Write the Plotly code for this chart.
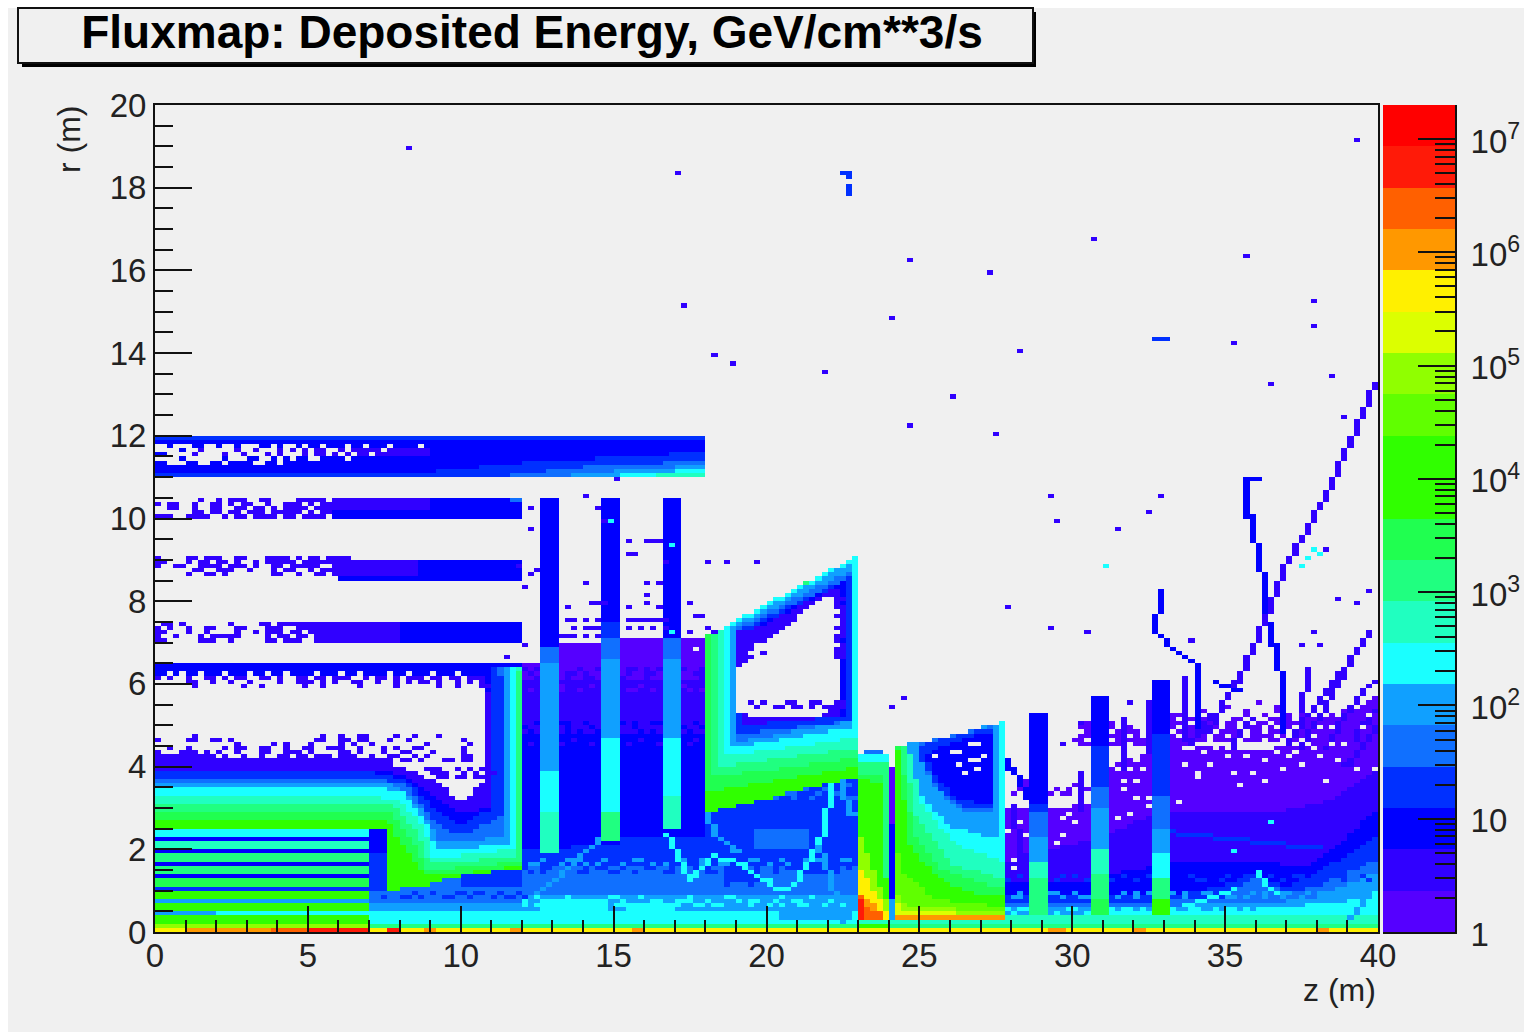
import numpy as np
import plotly.graph_objects as go

# ---------- chart content ----------
TITLE = "Fluxmap: Deposited Energy, GeV/cm**3/s"
X_LABEL = "z (m)"
Y_LABEL = "r (m)"
X_TICKS = [0, 5, 10, 15, 20, 25, 30, 35, 40]
Y_TICKS = [0, 2, 4, 6, 8, 10, 12, 14, 16, 18, 20]
CB_TICKS = [1, 10, 100, 1000, 10000, 100000, 1000000, 10000000]
CB_TEXT = ["1", "10", "10<sup>2</sup>", "10<sup>3</sup>", "10<sup>4</sup>", "10<sup>5</sup>", "10<sup>6</sup>", "10<sup>7</sup>"]
LOG_MAX = 7.3
COLORS = ["#5500ff", "#3000ff", "#0000ff", "#0030ff", "#1070ff", "#10a0ff", "#1affff", "#20ffc0", "#20ff80", "#20ff50",
          "#30ff00", "#30ff00", "#60ff00", "#90ff00", "#dcff00", "#fff000", "#ff9800", "#ff6000", "#ff1a08", "#ff0000"]

# Regions: (colour level, outline in (z, r)); two points = box.
# -1 clears the cell. Painted in order, later over earlier.
RIGHT_REGION = [
    (0, [(27.74, .8), (27.74, 3.0), (29.24, 3.0), (30.6, 3.1), (31.3, 4.0), (32.6, 4.4), (33.3, 4.6), (35.5, 4.4), (37.65, 4.5), (39, 5.2), (40, 5.8), (40, .5)]),
    (1, [(27.74, 1.7), (28.7, 1.9), (30.6, 2.2), (32.6, 2.8), (33.3, 2.95), (37, 2.95), (38.5, 3.2), (40, 4.0), (40, .5), (27.74, .5)]),
    (2, [(27.74, 1.2), (30, 1.2), (32, 1.5), (33.3, 1.7), (36, 1.75), (37.6, 1.55), (39, 2.3), (40, 3), (40, .5), (27.74, .5)]),
    (3, [(27.74, .95), (31, .9), (33.3, .9), (35, 1.15), (36, 1.4), (37, 1.1), (38, 1.45), (40, 2.3), (40, .5), (27.74, .5)]),
    (4, [(27.74, .72), (33, .75), (35, .85), (36, 1.3), (37, .95), (38, 1.1), (40, 1.75), (40, .5), (27.74, .5)]),
    (5, [(27.74, .6), (33, .62), (35, .7), (37, .75), (38, .85), (40, 1.45), (40, .3), (27.74, .3)]),
    (6, [(27.74, .42), (35, .5), (37, .6), (39, .75), (40, 1.0), (40, .3), (27.74, .3)]),
    (7, [(22.9, .2), (40, .4)]),
]
CENTRE_BACK = [
    (4, [(7, .5), (12, 1.7)]),
    (3, [(10, 1.1), (12, 1.7)]),
    (0, [(11.94, 2), (18, 2), (18, 7.1), (15.3, 7.1), (14.7, 7.0), (13.25, 7.0), (13.25, 6.9), (12.68, 6.9), (12.68, 6.55), (11.94, 6.55)]),
    (1, [(11.94, 2), (18, 2), (18, 6.1), (11.94, 6.1)]),
    (2, [(11.94, 2), (18, 2), (18, 4.8), (11.94, 4.8)]),
    (3, [(11.94, .3), (15, .3), (18, .3), (18, 2.3), (15.3, 2.3), (15.3, 2.1), (11.94, 2.0)]),
    (3, [(18, .3), (23, 3.9)]),
    (4, [(11.94, .3), (23, 1.65)]),
    (3, [(18.6, 1.1), (19.8, 1.5)]),
    (3, [(21.0, 1.4), (22.4, 1.9)]),
    (4, [(19.6, 2.0), (21.4, 2.5)]),
    (5, [(7, .3), (23, .7)]),
    (4, [(17.6, .7), (19.2, .9)]),
    (5, [(11.94, .6), (23, .95)]),
    (6, [(7, .2), (23, .5)]),
    (5, [(20.5, .3), (22.9, .55)]),
    (6, [(12.6, .5), (14.8, .8)]),
    (6, [(15.4, .5), (17, .75)]),
]
LOWER_LEFT = [
    (13, [(0, .1), (7, .2)]), (11, [(0, .2), (7, .4)]), (5, [(0, .4), (2, .5)]), (6, [(2, .4), (7, .5)]),
    (10, [(0, .5), (7, .7)]), (5, [(0, .7), (7, .8)]), (10, [(0, .8), (7, 1.0)]), (3, [(0, 1.0), (7, 1.1)]),
    (9, [(0, 1.1), (7, 1.3)]), (2, [(0, 1.3), (7, 1.4)]), (8, [(0, 1.4), (7, 1.6)]), (2, [(0, 1.6), (7, 1.7)]),
    (8, [(0, 1.7), (7, 1.9)]), (2, [(0, 1.9), (7, 2.0)]), (7, [(0, 2.0), (7, 2.2)]), (2, [(0, 2.2), (7, 2.3)]),
    (6, [(0, 2.3), (7, 2.5)]),
    (3, [(7, 1.0), (7.6, 1.9)]), (2, [(7, 1.9), (7.6, 2.5)]),
]
U_FLOOR = [(0, 2.5), (7.6, 2.5), (7.6, 1.0), (8.88, 1.13), (9.65, 1.3), (11.06, 1.46), (11.94, 1.5)]
U_CONTOURS = [
    (3, [(11.94, 6.45), (10.9, 6.45), (11.1, 6.0), (11.1, 3.0), (10.0, 2.6), (9.3, 2.9), (8.2, 3.7), (7, 3.87), (0, 3.87)]),
    (4, [(11.94, 6.45), (11.25, 6.45), (11.35, 5.9), (11.3, 2.75), (10, 2.35), (9.2, 2.6), (8.3, 3.55), (7, 3.72), (0, 3.72)]),
    (5, [(11.94, 6.45), (11.45, 6.4), (11.5, 5.8), (11.45, 2.35), (10.5, 2.2), (9.3, 2.25), (8.7, 3.0), (7.8, 3.6), (0, 3.6)]),
    (6, [(11.94, 6.45), (11.6, 6.35), (11.65, 5.8), (11.6, 2.15), (10, 2.0), (9.2, 2.0), (8.9, 2.6), (8.2, 3.35), (7.2, 3.5), (0, 3.5)]),
    (7, [(11.94, 6.45), (11.7, 6.3), (11.75, 2.0), (10, 1.85), (9.1, 1.8), (8.8, 2.5), (8.0, 3.2), (7, 3.3), (0, 3.3)]),
    (8, [(11.94, 6.4), (11.83, 6.2), (11.83, 1.85), (10, 1.7), (9.0, 1.65), (8.6, 2.4), (7.8, 3.05), (7, 3.1), (0, 3.1)]),
    (9, [(11.94, 6.0), (11.94, 1.7), (9.8, 1.55), (8.9, 1.5), (8.4, 2.2), (7.7, 2.9), (0, 2.9)]),
    (10, [(11.94, 1.6), (9.8, 1.4), (8.8, 1.35), (8.2, 2.0), (7.6, 2.7), (0, 2.7)]),
]
U_HOLE = [(0, 6.3), (10.85, 6.3), (10.9, 4.2), (10.75, 3.6), (10, 3.15), (9.3, 3.6), (8.5, 3.9), (7.5, 4.15), (3, 4.2), (0, 4.35)]
U_RIM = [(0, 3.95), (0, 4.35), (3, 4.2), (7.5, 4.15), (8.5, 3.9), (9.3, 3.6), (10, 3.15), (10.75, 3.6), (10.9, 4.2), (10.9, 5.8), (11.05, 5.8), (11.05, 3.0), (10, 2.9), (9.2, 3.2), (8.3, 3.7), (7.5, 3.95)]
UPPER_BANDS = [
    (2, [(0, 11), (18, 12)]), (3, [(0, 11.9), (18, 12)]), (3, [(0, 11), (8, 11.1)]), (1, [(1, 11.5), (9, 11.7)]),
    (3, [(7, 11), (18, 11), (18, 11.6), (12, 11.35)]), (4, [(11, 11), (18, 11), (18, 11.4), (14, 11.25)]),
    (5, [(13, 11), (18, 11), (18, 11.3), (15, 11.15)]), (6, [(14.4, 11), (18, 11), (18, 11.2), (16, 11.1)]),
    (7, [(16.4, 11), (18, 11.1)]),
    (2, [(5.8, 10), (12, 10.5)]), (1, [(5.8, 10.2), (9, 10.5)]), (4, [(11.6, 10.4), (12, 10.5)]),
    (2, [(6, 8.5), (12, 9.05)]), (1, [(6, 8.6), (8.6, 9.05)]),
    (2, [(7, 7), (12, 7.5)]), (1, [(5.4, 7), (8, 7.5)]),
]
WEDGE = [
    (10, [(18, 2.87), (22.95, 3.75), (22.95, 9.1), (18, 7.14)]),
    (9, [(18.1, 3.4), (22.95, 4.0), (22.95, 9.1), (18.1, 7.18)]),
    (8, [(18.25, 3.75), (22.95, 4.2), (22.95, 9.1), (18.25, 7.25)]),
    (7, [(18.45, 4.0), (22.95, 4.45), (22.95, 9.1), (18.45, 7.3)]),
    (6, [(18.6, 4.25), (22.95, 4.7), (22.95, 9.1), (18.6, 7.38)]),
    (5, [(18.75, 4.45), (22.8, 4.95), (22.8, 8.95), (18.75, 7.35)]),
    (4, [(18.95, 4.6), (22.8, 5.1), (22.8, 8.75), (18.95, 7.35)]),
    (3, [(19.1, 4.8), (22.8, 5.1), (22.8, 8.6), (19.1, 7.3)]),
    (2, [(19.3, 5.0), (22.6, 5.25), (22.6, 8.5), (19.25, 7.25)]),
    (1, [(19.15, 5.0), (22.5, 5.2), (22.5, 8.4), (19.15, 7.15)]),
    (-1, [(19.1, 6.9), (20, 7.0), (21, 7.6), (21.9, 8.15), (22.35, 8.05), (22.45, 7), (22.3, 5.55), (21.8, 5.25), (19.8, 5.15), (19.1, 5.3), (19.0, 6)]),
]
BLOCK_ONE = [
    (6, [(22.95, 4.1), (23.93, 4.3)]), (4, [(23.3, 4.3), (23.8, 4.42)]),
    (8, [(22.95, .27), (23.93, 4.15)]), (9, [(22.95, .27), (23.93, .27), (23.8, 3.85), (22.95, 3.85)]),
    (10, [(22.95, .27), (23.85, .27), (23.8, 3.6), (22.95, 3.7)]),
    (11, [(22.95, .27), (23.93, .27), (23.93, 1.2), (23.3, 3.2), (22.95, 3.9)]),
    (13, [(22.95, .27), (23.93, .27), (23.93, .7), (23.1, 2.3), (22.95, 3.7)]),
    (15, [(22.95, .27), (23.93, .27), (23.93, .5), (23.1, 1.5), (22.95, 3.4)]),
    (16, [(22.95, .27), (23.93, .27), (23.5, .7), (23.1, .9), (22.95, 1.8)]),
    (17, [(22.95, .27), (23.93, .27), (23.8, .45), (23.2, .6), (22.95, 1.4)]),
    (18, [(22.95, .27), (23.2, .27), (23.2, .6), (23, 1)]),
    (2, [(23.93, .8), (24.17, 3.9)]), (0, [(23.93, 2.6), (24.17, 4.0)]), (5, [(23.93, .27), (24.17, .8)]),
]
BLOCK_TWO = [
    (5, [(24.17, .27), (27.74, .27), (27.74, 5.09), (27.2, 5.0), (26.76, 4.9), (26.2, 4.76), (25.2, 4.6), (24.17, 4.5)]),
    (4, [(24.9, 4.55), (27.5, 5.0), (27.5, 2.95), (26.5, 2.87), (25.5, 3.5)]),
    (3, [(25.1, 4.55), (27.4, 4.95), (27.4, 3.0), (26.7, 2.95), (25.7, 3.4), (25.1, 4.1)]),
    (2, [(25.2, 4.3), (26.2, 4.6), (27.3, 4.85), (27.4, 3.1), (26.2, 3.2), (25.4, 3.9)]),
    (6, [(24.17, .27), (27.74, .27), (27.74, 2.22), (26.0, 2.55), (25.13, 3.2), (24.75, 3.84), (24.6, 4.5), (24.17, 4.5)]),
    (7, [(24.17, .27), (27.74, .27), (27.74, 1.74), (26.2, 2.1), (25.13, 3.0), (24.65, 4.5), (24.17, 4.5)]),
    (8, [(24.17, .27), (27.74, .27), (27.74, 1.26), (26, 1.66), (24.91, 2.75), (24.5, 4.5), (24.17, 4.5)]),
    (9, [(24.17, .27), (27.74, .27), (27.74, 1.05), (25.7, 1.5), (24.8, 2.4), (24.35, 4.5), (24.17, 4.5)]),
    (10, [(24.17, .27), (27.74, .27), (27.74, .86), (26.76, .94), (25.67, 1.26), (24.69, 2.06), (24.3, 4.4), (24.17, 4.4)]),
    (12, [(24.17, .27), (27.74, .27), (27.74, .6), (25.5, .8), (24.4, 1.5), (24.17, 2.4)]),
    (13, [(24.17, .27), (27.74, .27), (27.74, .45), (24.6, .65), (24.17, 1.0)]),
    (14, [(24.17, .27), (27.74, .27), (27.74, .4), (24.5, .5), (24.17, .8)]),
    (16, [(24.17, .27), (27.74, .37)]),
    (6, [(27.6, 2.2), (27.74, 5.09)]),
]
PILLARS = [
    (2, [(12.68, 6.9), (13.25, 10.52)]), (4, [(12.68, 6.5), (13.25, 6.9)]), (5, [(12.68, 3.9), (13.25, 6.5)]),
    (6, [(12.68, 2.87), (13.25, 3.9)]), (7, [(12.68, 1.92), (13.25, 2.87)]),
    (2, [(14.69, 7.5), (15.26, 10.52)]), (3, [(14.69, 7.1), (15.26, 7.5)]), (4, [(14.69, 6.6), (15.26, 7.1)]),
    (5, [(14.69, 4.7), (15.26, 6.6)]), (6, [(14.69, 2.87), (15.26, 4.7)]), (8, [(14.69, 2.18), (15.26, 2.87)]),
    (2, [(16.7, 7.1), (17.26, 10.52)]), (4, [(16.7, 6.65), (17.26, 7.1)]), (5, [(16.7, 4.7), (17.26, 6.65)]),
    (6, [(16.7, 3.3), (17.26, 4.7)]), (7, [(16.7, 2.5), (17.26, 3.3)]),
    (2, [(28.69, 3.11), (29.24, 5.31)]), (3, [(28.69, 2.87), (29.24, 3.11)]), (4, [(28.69, 2.31), (29.24, 2.87)]),
    (5, [(28.69, 1.66), (29.24, 2.31)]), (7, [(28.69, 1.26), (29.24, 1.66)]), (8, [(28.69, .37), (29.24, 1.26)]),
    (2, [(30.63, 4.48), (31.26, 5.7)]), (3, [(30.63, 3.5), (31.26, 4.48)]), (4, [(30.63, 3.0), (31.26, 3.5)]),
    (5, [(30.63, 1.97), (31.26, 3.0)]), (7, [(30.63, 1.4), (31.26, 1.97)]), (8, [(30.63, .85), (31.26, 1.4)]), (9, [(30.63, .37), (31.26, .85)]),
    (2, [(32.65, 4.8), (33.27, 6.09)]), (3, [(32.65, 3.3), (33.27, 4.8)]), (4, [(32.65, 2.55), (33.27, 3.3)]),
    (5, [(32.65, 1.9), (33.27, 2.55)]), (6, [(32.65, 1.26), (33.27, 1.9)]), (8, [(32.65, .85), (33.27, 1.26)]), (10, [(32.65, .37), (33.27, .85)]),
]
BOTTOM_ROWS = [
    (8, [(7, .1), (40, .2)]), (15, [(0, 0), (40, .1)]),
    (16, [(1.1, 0), (3.8, .1)]), (17, [(3.8, 0), (5, .1)]), (18, [(5, 0), (7, .1)]),
    (16, [(8.8, 0), (9.2, .1)]), (18, [(7.6, 0), (8.0, .1)]), (16, [(11.6, 0), (12, .1)]), (16, [(15.6, 0), (16, .1)]),
    (16, [(29.2, 0), (29.8, .1)]), (16, [(32, 0), (32.4, .1)]), (16, [(38, 0), (38.4, .1)]),
    (10, [(22.95, .1), (24, .2)]),
]

# Thin tracks: (level, way-points in (z, r))
TRACKS = [
    (6, [(16.73, 2.35), (17.5, 1.26), (18.26, 1.82), (19.24, 1.66), (20.33, 1.02), (20.87, 1.1), (21.75, 2.14), (22.18, 3.51)]),
    (5, [(18.04, 2.87), (18.37, 2.38), (19.13, 1.9)]),
    (5, [(21.75, 2.06), (22.5, .29)]),
    (5, [(14.55, 2.23), (13.24, 1.34), (12.37, .85)]),
    (5, [(22.4, 3.6), (22.8, 2.8)]),
    (2, [(35.64, 10.93), (36.1, 10.93)]),
    (2, [(35.64, 10.93), (35.8, 10.0), (36.3, 8.3), (36.3, 7.87), (36.9, 5.93), (36.9, 4.8)]),
    (1, [(39.9, 13.2), (38.5, 10.8), (37.1, 9.0), (36.3, 7.55), (35.37, 6.0), (34.39, 4.8)]),
    (2, [(32.9, 8.27), (32.7, 7.22), (34.17, 6.34), (34.17, 4.8)]),
    (2, [(27.76, 4.28), (28.8, 2.95)]),
    (1, [(39.73, 7.22), (39.19, 6.66), (38.2, 5.37), (37.45, 4.48)]),
    (1, [(39.84, 6.0), (39.08, 5.45), (38.3, 4.4)]),
    (1, [(38.86, 6.34), (37.67, 5.2), (37.0, 4.5)]),
    (1, [(39.84, 5.37), (39.2, 4.64)]),
    (1, [(39.9, 4.9), (38.9, 4.0)]),
    (2, [(34.66, 6.0), (35.5, 5.85)]),
    (1, [(31.66, 5.1), (31.66, 3.9)]),
    (1, [(32.4, 5.5), (32.4, 4.3)]),
    (1, [(33.7, 6.1), (33.8, 4.55)]),
    (1, [(34.5, 5.2), (33.9, 4.6)]),
    (1, [(35.8, 5.1), (35.2, 4.4)]),
    (1, [(37.7, 6.3), (37.5, 5.3)]),
    (1, [(28.1, 3.0), (28.3, 1.8)]),
    (1, [(30.2, 3.8), (30.2, 2.9)]),
    (5, [(39.0, .3), (40, 1.25)]),
    (6, [(36.0, 1.4), (36.6, .9)]),
    (6, [(33.6, .6), (35.2, 1.0)]),
    (3, [(33.3, 2.4), (38.0, 2.0)]),
]

# Single scattered cells (z, r) by level
SPECKS_SPARSE = [(8.21, 18.91), (17.1, 18.38), (39.3, 19.18), (30.67, 16.78), (24.79, 16.28), (27.27, 15.96), (35.68, 16.37), (17.3, 15.19),
                 (24.03, 14.8), (37.93, 15.21), (37.87, 14.68), (28.35, 14.03), (35.38, 14.29), (18.31, 13.98), (18.9, 13.76), (21.91, 13.57),
                 (38.59, 13.45), (36.4, 13.28), (26.1, 12.96), (24.69, 12.29), (27.57, 12.07), (29.37, 10.5), (29.4, 9.92), (32.86, 10.5),
                 (32.44, 10.13), (27.96, 7.86), (29.27, 7.3), (30.58, 7.25), (31.56, 9.72), (38.9, 12.4), (38.3, 9.2), (39.6, 8.2), (38.7, 8.0),
                 (39.2, 7.9), (33.9, 7.0), (37.8, 7.2), (37.5, 6.9), (38.1, 6.9), (29.7, 4.5), (30.2, 5.0), (31.9, 5.5), (24.5, 5.65), (24.1, 5.45)]
SPECKS_CENTRE = [(12.35, 10.25), (12.35, 9.76), (14.55, 10.25), (14.6, 9.9), (14.1, 10.57), (15.05, 10.9), (15.4, 9.46), (16.0, 9.46), (16.2, 9.46), (16.4, 9.46),
                 (15.5, 9.1), (15.7, 9.1), (16.6, 8.98), (18.1, 8.98), (18.7, 8.98), (19.6, 8.98), (12.5, 8.78), (12.3, 8.65), (12.0, 8.35), (14.0, 8.44), (16.1, 8.44),
                 (16.5, 8.44), (14.3, 7.97), (14.5, 7.97), (14.7, 7.97), (13.4, 7.87), (15.5, 7.87), (16.1, 7.9), (16.1, 8.1), (16.5, 7.87), (17.4, 7.97),
                 (17.7, 7.65), (17.9, 7.65), (18.0, 7.3), (17.5, 7.2), (13.4, 7.55), (13.7, 7.55), (14.1, 7.55), (14.5, 7.55), (13.6, 7.3), (14.1, 7.3), (14.3, 7.3), (14.5, 7.3),
                 (13.3, 7.1), (13.5, 7.1), (13.7, 7.1), (14.1, 7.1), (14.5, 7.1), (15.4, 7.55), (15.6, 7.55), (15.8, 7.55), (16.0, 7.55), (16.2, 7.55), (16.4, 7.55), (16.6, 7.55),
                 (15.4, 7.3), (15.8, 7.3), (16.2, 7.3), (16.6, 7.3), (18.2, 7.25), (11.96, 8.8), (12.1, 6.9), (11.4, 6.65)]
HOLES = [(26.6, 4.57), (26.98, 4.57), (26.1, 4.36), (26.3, 4.36), (26.6, 4.16), (26.8, 4.16), (26.27, 4.04), (26.8, 3.93), (25.5, 4.25), (27.0, 4.25), (26.44, 3.8),
         (31.66, 3.6), (31.66, 3.4), (32.0, 3.68), (32.05, 3.27), (32.43, 3.23), (32.43, 3.0), (31.94, 2.88), (31.4, 2.75), (34.0, 3.7), (33.5, 3.15),
         (29.6, 2.3), (29.54, 2.13), (28.0, 1.74), (28.07, 1.54), (30.0, 2.6), (29.6, 2.7), (27.9, 2.4), (28.2, 2.6), (28.4, 2.3), (29.9, 2.85),
         (33.7, 4.05), (34.17, 3.84), (34.5, 4.05), (35.2, 3.84), (35.4, 3.55), (35.8, 3.8), (36.3, 3.65), (36.8, 3.9), (37.55, 4.08), (38.3, 3.65),
         (39.3, 3.93), (39.8, 3.92), (38.7, 4.1), (38.05, 4.2), (37.3, 4.3), (36.3, 4.15), (35.0, 4.25), (33.9, 4.4), (32.4, 3.2), (32.4, 3.0), (33.5, 3.15),
         (17.7, 6.85), (31.5, 3.9), (32.0, 4.1), (32.2, 3.9), (31.9, 3.9), (33.6, 4.4), (34.2, 4.3), (34.7, 4.4), (35.6, 4.25), (36.1, 4.4), (36.7, 4.35), (37.0, 4.2), (37.9, 4.4), (38.4, 4.5), (38.9, 4.5), (39.4, 4.9), (39.7, 5.2)]
SPECKS_BRIGHT = [(31.16, 8.88), (37.6, 9.0), (37.8, 9.2), (37.4, 8.8), (38.0, 9.1), (36.5, 2.6), (35.3, 1.9), (14.9, 9.95), (16.9, 9.3), (16.9, 7.2)]
BLUE_HOOK = [(22.4, 18.35), (22.6, 18.35), (22.6, 18.2), (22.6, 18.05), (22.6, 17.9), (22.6, 17.8), (32.6, 14.3), (32.8, 14.3), (33.0, 14.3)]

# Speckled rows: (level, first column in 0.2 m cells, r of first row, rows going downward); '#' marks a cell
MASKS_BACK = [
    (6, 60, .88, ["  #    #      ##   #       #     ##       #    #       ",
                  "#   ##    #  #  #    ##  ###  #    # ##  #  ##    ##  ",
                  "# ##  #  # #   ## # #  # #  ## ##    #  # #  ##  #  # "]),
    (4, 60, 1.15, [" ##  #  ## #    #  ##   #  ##  #  ### #   ##  #  ##  #",
                   "#  #   #   # ##   #  #  ##    #   #  # ##    #  #  #  ",
                   "  #  ##  #    #  #   ###  # ##  #    #   # #   #  ##  "]),
    (3, 60, 1.55, ["#  ##  #  # ##  #   ##  #   # #  ###  #  # ##  #  #  #",
                   " # #  #  ##   ##  #    ## #   ##  #  #   #   ##  ##   "]),
    (5, 60, 1.75, ["   #   ##    #    ##     ##  #   #   ##   #   # #   ##",
                   " ##   #   # #   #    # #     #  ##      #  #     #    "]),
    (4, 90, 3.5, ["  # ##   #  ##   ## #  # ##  #  #",
                  "#  #  ##   #  # #  #  #    # ## ",
                  "  #   #  #   ##   #  ##  #  #  #",
                  "##  #   #  #  #  #  #  ##  # #  "]),
    (1, 60, 6.35, ["# # ##   #  # #  ## # #   #  # ",
                   " #   # ## #   #  #  ## # #  ## ",
                   "  # #  #  ##  # #   #   ##   # "]),
    (0, 60, 5.95, ["   #  #    #   #   #   #  #    ",
                   " #    #  #   #   ##  #     # # "]),
    (2, 60, 5.05, ["  #   ##  #  #  # #  ## #   # #",
                   "#  ##  #   #   #  #    #  #  # ",
                   " #  #  # #  ## #   # #  ## #   "]),
    (1, 60, 4.65, ["   #    #     #    #    #   #  ",
                   " #    #    #     #    #    #   "]),
    (5, 35, .68, ["  #  ##  #   #  # ##  #   ",
                  " #  #   ## #   #   #  ##  "]),
    (3, 35, .95, ["       #  #   ## ##  #  # ",
                  "  #  ## #   ##  #   # ## #"]),
    (5, 139, .95, ["  #  # ##  #  ##   # # ##  # #  ##  #   # #  ##  # ## # ## #  ",
                   " ##  #   #  ##  # #  #  ##   #   #  ## #  #  #  #  ## #  ## "]),
    (6, 139, .55, ["# ##  #   ##  #  # ## #  # #  ##  # ## #  #  # ## #  # #  # #",
                   " #  ##  #    ## #  #    #  ##   #   #  ## #  #   #  #  #  ## "]),
    (3, 139, 1.35, ["  #   #  # #    #  #   ## #   #     #  ##  #   ##  #   #  #  ",
                    "#   #   #    #   #   #    #    ##  #      #  #  ##  #  #   # "]),
    (0, 166, 5.5, ["              #          #       # ",
                   "         #       #       #     #  #",
                   "    ##      #    #   #      # #  ##",
                   "##    #     #  #   # #  # #  ## ###",
                   "#  # #    ## #  ## #  ## ### # # ##",
                   "##  # ## ## # ## # ## # ### ## ####",
                   "# ## ### ## ### # ## ### # ### ### ",
                   " ### ## #### ## ### ## #### ## ####",
                   "# #### ## ## #### # ### # ### # ###",
                   "## ### #### ### ## ## ##### ### ###"]),
    (0, 139, 3.6, ["   #          #     #  #    #    #  ",
                   "  ## #     ## ##   ##  ##  ### # #  ",
                   "  # ##  # #  ###  ### ### ##### ###",
                   " # ## ## ## # ### #### ### ### ####"]),
    (0, 150, 5.0, ["  #   #       ",
                   " ##  ##  #   #",
                   "  # ## # ## ##",
                   " ## # ### # ##",
                   "## ##  # #####",
                   " #### ### ####"]),
]
MASKS = [
    (-1, 0, 11.75, ["## ###  ## ## ###  # ## #  #   #  #   #    #",
                    "#### ## ##### ## ### # # #  ## #     #     ",
                    "  #### #### ## ### # ### #  # # #  #       ",
                    "#### ###### ###  ## # #  ##    #           ",
                    "  ###  ##  #    ##  #                      "]),
    (1, 0, 10.45, ["       #  # ###  ##    ##### ",
                   "# ##  #  ## # ##  #  ### # ##",
                   "  ##  #  ##  ## ## # #### ###",
                   "      ## ## ## ### ##### # ##",
                   "###  ####  # ## #### ## #### "]),
    (1, 0, 9.0, ["#    ## ###  ##   #### # ## ####",
                 "##   # ## ## #  # ##### ####### ",
                 "#  ##  #### ### #  ## #####  ## ",
                 "      ##  ###  #   # ##  # ### #",
                 "     #  ## #       ##  #  ## ###"]),
    (1, 0, 7.45, [" ## #       #    ## ########  ",
                  "# #  #  ##   ##   ###  #### ###",
                  "##   #  #    #  # ### ## #### #",
                  "#  #   # #####    # ## ## #####",
                  "##     ###  #     ## ###  ###  "]),
    (2, 0, 6.25, ["## # ## ### ### ## ## #### ### ## #### ## ### ### ####"]),
    (1, 0, 6.15, ["# #  #  ## # ##  ## #  ## ## ###  # ## # ### ## ## ###",
                  "     ##  #  #  #    #  ### # #  ##  #  # # ## #  # # #",
                  "      #       #  #      #  #     #     #      #  #   ##"]),
    (1, 0, 4.7, ["      #                    #  #  ##    #  #   #      ",
                 "#    ##  ## #             ##  ## ##   #  #        #  ",
                 "             #     # #   #    # #  #        #      # ",
                 "  #  #     # ##  ##  #  ##  ###  #   # #  ##      # ",
                 "#   ### # #  #   ##  ### #    ## #   #  ##   #    # ",
                 "  ##### ## #  #  #  ## ## ### ###  #  ##  # #     ##",
                 "######### ##   ##### #######  ######### ## #   ## ##"]),
    (1, 44, 3.9, ["###  # # #  ",
                  " ###  # # ## ",
                  "  ## ## ##  "]),
    (1, 95, 7.2, ["##   ",
                  "###  ",
                  "# #  ",
                  "##   ",
                  "###  ",
                  "##  #",
                  "###  ",
                  "##   ",
                  "#    "]),
    (1, 108, 8.0, ["   ##",
                   "   # ",
                   "   ##",
                   "    #",
                   "   ##",
                   "    #",
                   "    #",
                   "   ##",
                   "    #",
                   "   ##",
                   "   # ",
                   "    #",
                   "   ##",
                   "   ##",
                   "   ##"]),
    (1, 97, 5.5, ["# #   ##  ##  ## ", " #  ## ## # #### "]),
]

# ---------- grid ----------
NZ, NR = 200, 200
z_edges = [i * 0.2 for i in range(NZ + 1)]
r_edges = [i * 0.1 for i in range(NR + 1)]
zc = (np.array(z_edges[:-1]) + np.array(z_edges[1:])) / 2
rc = (np.array(r_edges[:-1]) + np.array(r_edges[1:])) / 2
ZZ, RR = np.meshgrid(zc, rc)
grid = np.full((NR, NZ), -1, dtype=int)


def paint(level, pts):
    if len(pts) == 2:
        (a, b), (c, d) = pts
        pts = [(a, b), (c, b), (c, d), (a, d)]
    inside = np.zeros(ZZ.shape, dtype=bool)
    n = len(pts)
    for i in range(n):
        x1, y1 = pts[i]
        x2, y2 = pts[(i + 1) % n]
        if y1 == y2:
            continue
        cond = (y1 <= RR) != (y2 <= RR)
        inside ^= cond & (ZZ < x1 + (RR - y1) * (x2 - x1) / (y2 - y1))
    grid[inside] = level


def cell(level, z, r):
    iz, ir = int(z / 0.2 + 1e-6), int(r / 0.1 + 1e-6)
    if 0 <= iz < NZ and 0 <= ir < NR:
        grid[ir, iz] = level


def track(level, pts):
    for (a, b), (c, d) in zip(pts[:-1], pts[1:]):
        n = int(max(abs(c - a) / 0.2, abs(d - b) / 0.1)) + 1
        for k in range(n + 1):
            cell(level, a + (c - a) * k / n, b + (d - b) * k / n)


def stamp(masks):
    for lev, col0, rtop, rows in masks:
        for j, row in enumerate(rows):
            for i, ch in enumerate(row):
                if ch == "#":
                    cell(lev, (col0 + i + 0.5) * 0.2, rtop - j * 0.1)


for lev, pts in RIGHT_REGION + CENTRE_BACK:
    paint(lev, pts)
stamp(MASKS_BACK)
for lev, pts in TRACKS:
    track(lev, pts)
for lev, pts in LOWER_LEFT:
    paint(lev, pts)
paint(2, U_FLOOR + [(11.94, 6.5), (0, 6.5)])
paint(-1, U_HOLE)
paint(1, U_RIM)
for lev, curve in U_CONTOURS:
    paint(lev, U_FLOOR + curve)
for lev, pts in UPPER_BANDS + WEDGE + BLOCK_ONE + BLOCK_TWO + PILLARS + BOTTOM_ROWS:
    paint(lev, pts)
stamp(MASKS)
for z, r in SPECKS_SPARSE + SPECKS_CENTRE:
    cell(1, z, r)
for z, r in HOLES:
    cell(-1, z, r)
for z, r in SPECKS_BRIGHT:
    cell(6, z, r)
for z, r in BLUE_HOOK:
    cell(3, z, r)

values = np.where(grid < 0, np.nan, (grid + 0.5) * LOG_MAX / 20)

# ---------- figure ----------
W, H = 1524, 1032
PX = lambda x: x / W
PY = lambda y: 1 - y / H
BG = "#f0f0f0"
scale = []
for i, c in enumerate(COLORS):
    scale += [[i / 20, c], [(i + 1) / 20, c]]

fig = go.Figure()
fig.add_trace(go.Heatmap(x=z_edges, y=r_edges, z=values, zmin=0, zmax=LOG_MAX, colorscale=scale, showscale=False,
                         hoverongaps=False, xaxis="x", yaxis="y"))
cb_edges = [10 ** (i * LOG_MAX / 20) for i in range(21)]
cb_values = [[(i + 0.5) * LOG_MAX / 20] for i in range(20)]
fig.add_trace(go.Heatmap(x=[0, 1], y=cb_edges, z=cb_values, zmin=0, zmax=LOG_MAX, colorscale=scale, showscale=False,
                         hoverinfo="skip", xaxis="x2", yaxis="y2"))

FONT = "Liberation Sans, Arial, sans-serif"
TICK = dict(family=FONT, size=33, color="#222222")
cb_minor = [m * 10 ** d for d in range(8) for m in range(2, 10) if m * 10 ** d <= 10 ** LOG_MAX] + [10 ** LOG_MAX]

fig.update_layout(
    width=W, height=H, autosize=False, margin=dict(l=0, r=0, t=0, b=0), template=None,
    paper_bgcolor="white", plot_bgcolor=BG, showlegend=False,
    title=dict(text=TITLE, font=dict(family=FONT, size=46, color="black", weight="bold"),
               x=PX(532), y=PY(32), xanchor="center", yanchor="middle", xref="paper", yref="paper"),
    xaxis=dict(domain=[PX(155), PX(1378)], range=[0, 40], tickvals=X_TICKS, ticks="inside", ticklen=26, tickwidth=2,
               tickcolor="#111111", tickfont=TICK, showline=True, linecolor="#111111", linewidth=2, mirror=True,
               showgrid=False, zeroline=False, anchor="y", automargin=False, ticklabelstandoff=-7,
               minor=dict(tickvals=list(range(41)), ticks="inside", ticklen=12, tickwidth=2, tickcolor="#111111", showgrid=False)),
    yaxis=dict(domain=[PY(932), PY(105)], range=[0, 20], tickvals=Y_TICKS, ticks="inside", ticklen=37, tickwidth=2,
               tickcolor="#111111", tickfont=TICK, showline=True, linecolor="#111111", linewidth=2, mirror=True,
               showgrid=False, zeroline=False, anchor="x", automargin=False,
               minor=dict(tickvals=[i * 0.5 for i in range(41)], ticks="inside", ticklen=18, tickwidth=2, tickcolor="#111111", showgrid=False)),
    xaxis2=dict(domain=[PX(1383), PX(1455)], range=[0, 1], showticklabels=False, ticks="", showline=True, linecolor="#111111",
                linewidth=2, showgrid=False, zeroline=False, anchor="y2", automargin=False),
    yaxis2=dict(domain=[PY(932), PY(105)], type="log", range=[0, LOG_MAX], side="right", anchor="x2", tickvals=CB_TICKS, ticktext=CB_TEXT,
                ticks="inside", ticklen=37, tickwidth=2, tickcolor="#111111", tickfont=TICK, showline=True, linecolor="#111111",
                linewidth=2, showgrid=False, zeroline=False, automargin=False, ticklabelstandoff=7, ticklabelshift=2,
                minor=dict(tickvals=cb_minor, ticks="inside", ticklen=20, tickwidth=2, tickcolor="#111111", showgrid=False)),
    shapes=[
        dict(type="rect", xref="paper", yref="paper", x0=PX(8), x1=PX(1524), y0=PY(1032), y1=PY(8), fillcolor=BG, line=dict(width=0), layer="below"),
        dict(type="rect", xref="paper", yref="paper", x0=PX(22), x1=PX(1036), y0=PY(67), y1=PY(12), fillcolor="#000000", line=dict(width=0), layer="below"),
        dict(type="rect", xref="paper", yref="paper", x0=PX(18), x1=PX(1033), y0=PY(63), y1=PY(8), fillcolor=BG, line=dict(color="#111111", width=2), layer="below"),
    ],
    annotations=[
        dict(text=X_LABEL, xref="paper", yref="paper", x=PX(1378), y=PY(990), xanchor="right", yanchor="middle", showarrow=False,
             font=dict(family=FONT, size=32, color="#222222")),
        dict(text=Y_LABEL, xref="paper", yref="paper", x=PX(69), y=PY(139), xanchor="center", yanchor="middle", textangle=-90, showarrow=False,
             font=dict(family=FONT, size=32, color="#222222")),
    ],
)
fig.write_html("out.html", config={"displayModeBar": False},
               post_script="document.body.style.margin='0';document.documentElement.style.overflow='hidden';")
